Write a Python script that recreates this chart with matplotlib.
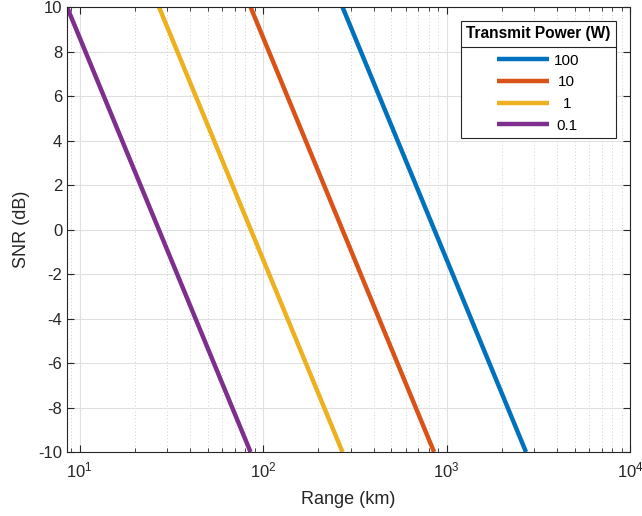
import matplotlib.pyplot as plt
from matplotlib.lines import Line2D

plt.rcParams['font.family'] = ['Liberation Sans', 'DejaVu Sans']
plt.rcParams['axes.unicode_minus'] = False
plt.rcParams['mathtext.fontset'] = 'custom'
plt.rcParams['mathtext.rm'] = 'Liberation Sans'
plt.rcParams['mathtext.it'] = 'Liberation Sans'

# transmit powers (W) and the range (km) where each curve hits SNR = 10 dB and -10 dB
powers = ['100', '10', '1', '0.1']
snr_db = [10, -10]
range_km = [
	[271, 2710],
	[85.5, 855],
	[27.1, 271],
	[8.55, 85.5],
]
colors = ['#0072BD', '#D95319', '#EDB120', '#7E2F8E']

fig = plt.figure(figsize=(6.42, 5.16), dpi=100)
ax = fig.add_axes([0.1044, 0.124, 0.877, 0.8624])

for r, p, c in zip(range_km, powers, colors):
	ax.plot(r, snr_db, color=c, lw=3.2, label=p, solid_capstyle='butt')

ax.set_xscale('log')
ax.set_xlim(8.55, 1e4)
ax.set_ylim(-10, 10)
ax.set_yticks(range(-10, 11, 2))
ax.set_xlabel('Range (km)', fontsize=13, color='#262626', labelpad=8)
ax.set_ylabel('SNR (dB)', fontsize=13, color='#262626', labelpad=6)

ax.grid(True, which='major', color='#e0e0e0', lw=0.8, ls='-')
ax.grid(True, which='minor', axis='x', color='#c0c0c0', lw=0.6, ls=(0, (1, 3)))
ax.set_axisbelow(True)
ax.tick_params(which='both', direction='in', top=True, right=True, colors='#262626', labelsize=12)
ax.tick_params(which='major', length=5)
ax.tick_params(which='minor', length=3)
ax.tick_params(axis='x', which='major', pad=6)
for s in ax.spines.values():
	s.set_color('#262626')
	s.set_linewidth(0.8)

leg = ax.legend(title='Transmit Power (W)', loc='upper right', bbox_to_anchor=(0.975, 0.969),
	borderaxespad=0, fontsize=11, handlelength=3.4, handletextpad=0.3, labelspacing=0.5,
	fancybox=False, edgecolor='#262626', framealpha=1, borderpad=0.35)
leg.get_title().set_fontweight('bold')
leg.get_title().set_fontsize(11.2)
leg.get_frame().set_linewidth(0.8)
leg._legend_box.sep = 9  # more room between title and entries

# centre the entry labels in their column, like matlab
fig.canvas.draw()
r = fig.canvas.get_renderer()
widths = [t.get_window_extent(r).width for t in leg.get_texts()]
for t, w in zip(leg.get_texts(), widths):
	t.set_x((max(widths) - w) / 2)

# separator under the legend title
fig.canvas.draw()
fb = leg.get_frame().get_window_extent()
tb = leg.get_title().get_window_extent()
eb = leg.get_texts()[0].get_window_extent()
yline = (tb.y0 + eb.y1) / 2
inv = fig.transFigure.inverted()
x0, y0 = inv.transform((fb.x0, yline))
x1, _ = inv.transform((fb.x1, yline))
fig.add_artist(Line2D([x0, x1], [y0, y0], color='#262626', lw=0.8, zorder=10))

fig.savefig('out.png', dpi=100)
